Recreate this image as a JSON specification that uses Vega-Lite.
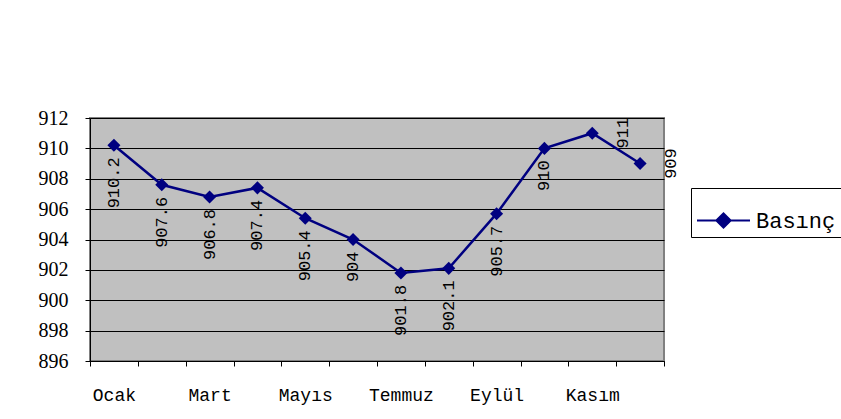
{
  "$schema": "https://vega.github.io/schema/vega-lite/v6.json",
  "width": 574,
  "height": 243,
  "autosize": {"type": "none"},
  "padding": {"left": 90, "top": 118, "right": 177, "bottom": 58},
  "background": "white",
  "data": {
    "values": [
      {"month": "Ocak", "value": 910.2, "series": "Basınç"},
      {"month": "Şubat", "value": 907.6, "series": "Basınç"},
      {"month": "Mart", "value": 906.8, "series": "Basınç"},
      {"month": "Nisan", "value": 907.4, "series": "Basınç"},
      {"month": "Mayıs", "value": 905.4, "series": "Basınç"},
      {"month": "Haziran", "value": 904, "series": "Basınç"},
      {"month": "Temmuz", "value": 901.8, "series": "Basınç"},
      {"month": "Ağustos", "value": 902.1, "series": "Basınç"},
      {"month": "Eylül", "value": 905.7, "series": "Basınç"},
      {"month": "Ekim", "value": 910, "series": "Basınç"},
      {"month": "Kasım", "value": 911, "series": "Basınç"},
      {"month": "Aralık", "value": 909, "series": "Basınç"}
    ]
  },
  "encoding": {
    "x": {
      "field": "month",
      "type": "ordinal",
      "sort": null,
      "bandPosition": 0.5,
      "scale": {"type": "band", "paddingInner": 0, "paddingOuter": 0},
      "axis": {
        "title": null,
        "grid": false,
        "domainColor": "#000000",
        "domainWidth": 1,
        "tickColor": "#000000",
        "tickSize": 5,
        "tickBand": "extent",
        "labelAngle": 0,
        "labelFont": "Liberation Mono",
        "labelFontSize": 18,
        "labelColor": "#000000",
        "labelBaseline": "top",
        "labelPadding": 20,
        "labelExpr": "indexof(['Ocak','Mart','Mayıs','Temmuz','Eylül','Kasım'], datum.value) >= 0 ? datum.value : ''"
      }
    },
    "y": {
      "field": "value",
      "type": "quantitative",
      "scale": {"domain": [896, 912], "zero": false, "nice": false},
      "axis": {
        "title": null,
        "values": [896, 898, 900, 902, 904, 906, 908, 910, 912],
        "grid": true,
        "gridColor": "#000000",
        "gridWidth": 1,
        "domainColor": "#000000",
        "domainWidth": 1,
        "tickColor": "#000000",
        "tickSize": 5,
        "labelFont": "Liberation Serif, Times New Roman, serif",
        "labelFontSize": 20,
        "labelColor": "#000000",
        "labelPadding": 17
      }
    }
  },
  "layer": [
    {
      "mark": {"type": "line", "strokeWidth": 2.5},
      "encoding": {
        "color": {
          "field": "series",
          "type": "nominal",
          "scale": {"range": ["#000080"]},
          "legend": {
            "title": null,
            "orient": "none",
            "legendX": 601,
            "legendY": 70,
            "strokeColor": "#000000",
            "fillColor": "#ffffff",
            "padding": 5,
            "labelFont": "Liberation Mono",
            "labelFontSize": 22,
            "labelColor": "#000000",
            "labelOffset": 5,
            "symbolType": "M-1,0L-0.27,0M0.27,0L1,0M-0.27,0L0,-0.27L0.27,0L0,0.27Z",
            "symbolSize": 2809,
            "symbolStrokeColor": "#000080",
            "symbolFillColor": "#000080",
            "symbolStrokeWidth": 2,
            "encode": {
              "symbols": {
                "update": {
                  "fill": {"value": "#000080"},
                  "stroke": {"value": "#000080"},
                  "strokeWidth": {"value": 2},
                  "opacity": {"value": 1}
                }
              }
            }
          }
        }
      }
    },
    {
      "mark": {"type": "point", "shape": "diamond", "filled": true, "size": 170, "opacity": 1, "color": "#000080"}
    },
    {
      "transform": [{"filter": "datum.month !== 'Kasım' && datum.month !== 'Aralık'"}],
      "mark": {
        "type": "text",
        "angle": 270,
        "align": "right",
        "baseline": "middle",
        "dx": -12,
        "font": "Liberation Mono",
        "fontSize": 17,
        "color": "#000000"
      },
      "encoding": {"text": {"field": "value", "type": "nominal"}}
    },
    {
      "transform": [{"filter": "datum.month === 'Kasım' || datum.month === 'Aralık'"}],
      "mark": {
        "type": "text",
        "angle": 270,
        "align": "center",
        "baseline": "middle",
        "dy": 31,
        "font": "Liberation Mono",
        "fontSize": 17,
        "color": "#000000"
      },
      "encoding": {"text": {"field": "value", "type": "nominal"}}
    }
  ],
  "config": {
    "view": {"fill": "#c0c0c0", "stroke": "#808080", "strokeWidth": 2}
  }
}
